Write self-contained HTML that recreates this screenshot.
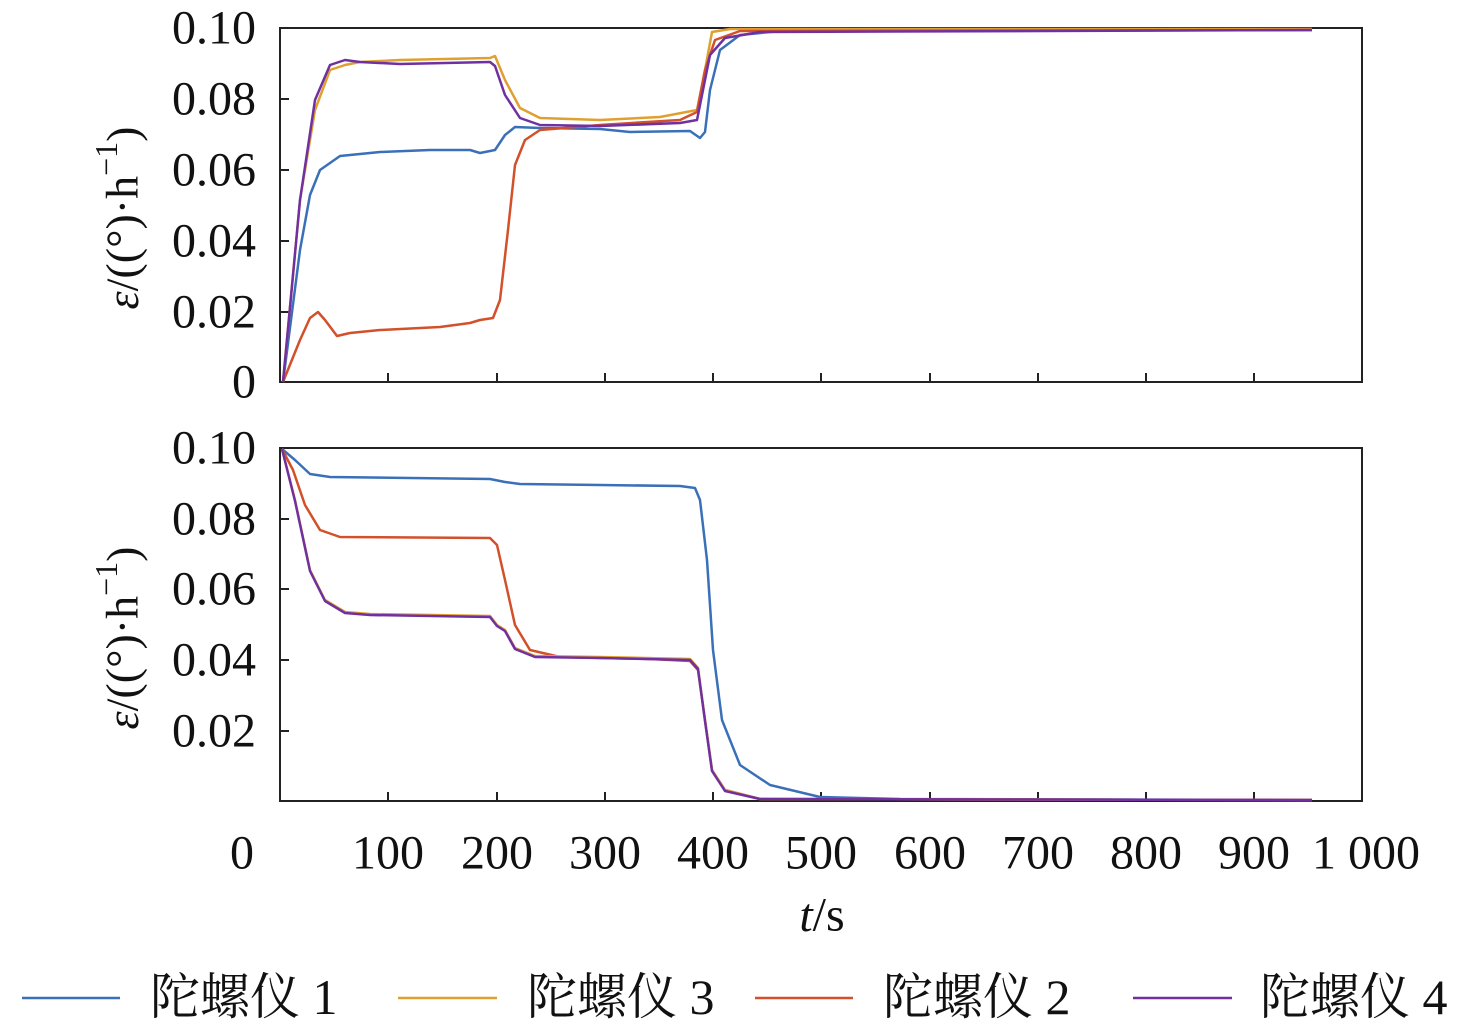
<!DOCTYPE html>
<html><head><meta charset="utf-8"><style>
html,body{margin:0;padding:0;background:#fff}
svg{display:block}
text{font-family:"Liberation Serif","Noto Serif CJK SC",serif;fill:#111}
.t{font-size:48px}
.lg{font-size:50px;font-family:"Liberation Serif","Noto Serif CJK SC",serif}
</style></head><body>
<svg width="1476" height="1031" viewBox="0 0 1476 1031" xmlns="http://www.w3.org/2000/svg">
<g fill="none" stroke="#222" stroke-width="2">
<rect x="280" y="28" width="1082" height="354"/>
<rect x="280" y="448" width="1082" height="353"/>
<path d="M388 382v-9M497 382v-9M605 382v-9M713 382v-9M821 382v-9M930 382v-9M1038 382v-9M1146 382v-9M1254 382v-9
M388 801v-9M497 801v-9M605 801v-9M713 801v-9M821 801v-9M930 801v-9M1038 801v-9M1146 801v-9M1254 801v-9
M280 99h9M280 170h9M280 241h9M280 312h9
M280 519h9M280 589h9M280 660h9M280 731h9"/>
</g>
<g class="t" text-anchor="end" dominant-baseline="central">
<text x="256" y="28">0.10</text><text x="256" y="99">0.08</text><text x="256" y="170">0.06</text><text x="256" y="241">0.04</text><text x="256" y="312">0.02</text><text x="256" y="382">0</text>
<text x="256" y="448">0.10</text><text x="256" y="519">0.08</text><text x="256" y="589">0.06</text><text x="256" y="660">0.04</text><text x="256" y="731">0.02</text>
</g>
<g class="t" text-anchor="middle" dominant-baseline="central">
<text x="242" y="853">0</text><text x="388" y="853">100</text><text x="497" y="853">200</text><text x="605" y="853">300</text><text x="713" y="853">400</text><text x="821" y="853">500</text><text x="930" y="853">600</text><text x="1038" y="853">700</text><text x="1146" y="853">800</text><text x="1254" y="853">900</text><text x="1366" y="853">1 000</text>
<text x="822" y="915"><tspan font-style="italic">t</tspan>/s</text>
<text transform="translate(122,218) rotate(-90)" font-size="46"><tspan font-style="italic">ε</tspan>/((°)·h<tspan dy="-16" font-size="32">−1</tspan><tspan dy="16">)</tspan></text>
<text transform="translate(122,638) rotate(-90)" font-size="46"><tspan font-style="italic">ε</tspan>/((°)·h<tspan dy="-16" font-size="32">−1</tspan><tspan dy="16">)</tspan></text>
</g>
<g fill="none" stroke-width="2.5" stroke-linejoin="round">
<polyline stroke="#3a70b8" points="283,382 300,250 310,195 320,170 340,156 380,152 430,150 470,150 480,153 495,150 505,135 515,127 540,128 600,129 630,132 690,131 700,138 705,132 710,90 720,50 740,35 780,31 1312,30"/>
<polyline stroke="#e0a030" points="283,382 300,200 315,110 330,70 345,65 360,62 400,60 490,58 495,56 505,80 520,108 540,118 600,120 660,117 697,110 705,70 712,32 730,29 1312,29"/>
<polyline stroke="#d2502a" points="283,382 300,340 310,318 318,312 325,320 337,336 350,333 380,330 440,327 470,323 480,320 493,318 500,300 508,230 515,165 525,140 540,130 600,125 680,120 697,112 705,70 715,40 740,31 1312,30"/>
<polyline stroke="#7030a0" points="283,382 300,200 315,100 330,65 345,60 360,62 400,64 490,62 495,66 505,95 520,118 540,125 600,126 680,123 697,120 703,90 710,55 725,38 760,32 1312,30"/>
<polyline stroke="#3a70b8" points="282,449 295,460 310,474 330,477 490,479 505,482 520,484 600,485 680,486 695,488 700,500 707,560 713,650 722,720 740,765 770,785 820,797 900,799 1312,800"/>
<polyline stroke="#d2502a" points="282,449 293,470 305,505 320,530 340,537 490,538 497,545 505,580 515,625 530,650 560,657 650,659 690,661 698,670 705,720 712,770 725,790 760,799 1312,800"/>
<polyline stroke="#e0a030" points="282,449 295,500 310,570 325,600 345,612 370,614 490,616 497,625 505,630 515,648 535,656 600,657 690,659 698,668 705,720 712,770 725,790 760,799 1312,800"/>
<polyline stroke="#7030a0" points="282,449 295,501 310,571 325,601 345,613 370,615 490,617 497,626 505,631 515,649 535,657 600,658 690,660 698,669 705,721 712,771 725,791 760,799 1312,800"/>
</g>
<g stroke-width="2.5">
<line x1="22" y1="998" x2="120" y2="998" stroke="#3a70b8"/>
<line x1="398" y1="998" x2="497" y2="998" stroke="#e0a030"/>
<line x1="755" y1="998" x2="853" y2="998" stroke="#d2502a"/>
<line x1="1133" y1="998" x2="1232" y2="998" stroke="#7030a0"/>
</g>
<g class="lg" dominant-baseline="central">
<text x="150" y="997">陀螺仪 1</text>
<text x="527" y="997">陀螺仪 3</text>
<text x="883" y="997">陀螺仪 2</text>
<text x="1260" y="997">陀螺仪 4</text>
</g>
</svg>
</body></html>
